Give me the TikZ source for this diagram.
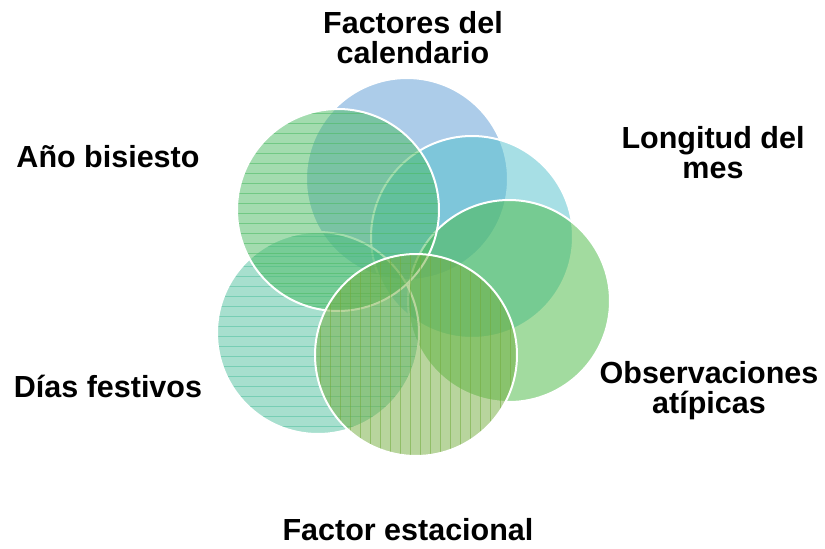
\documentclass[tikz,border=0pt]{standalone}
\usepackage{fontspec}
\setmainfont{Liberation Sans}
\definecolor{cBlue}{HTML}{5B9BD5}
\definecolor{cLong}{HTML}{51C1CD}
\definecolor{cObs}{HTML}{47B941}
\definecolor{cDias}{HTML}{51C19F}
\definecolor{cAno}{HTML}{49BB61}
\definecolor{cFac}{HTML}{72AC3C}
\begin{document}
\begin{tikzpicture}[x=1pt,y=-1pt,
  ring/.style={draw=white,line width=2pt},
  disc/.style={fill opacity=0.5},
  stripe/.style={line width=0.9pt,opacity=0.55},
  lbl/.style={font=\bfseries\fontsize{30.5}{30}\selectfont,align=center,anchor=base,inner sep=0pt}]
\useasboundingbox[fill=white] (0,0) rectangle (825,549);
\coordinate (cB) at (407,179);
\coordinate (cL) at (472,237);
\coordinate (cO) at (509,301);
\coordinate (cD) at (318,333);
\coordinate (cA) at (338,210);
\coordinate (cF) at (416,355);
% blue
\fill[cBlue,disc] (cB) circle (101pt);
\draw[ring] (cB) circle (101pt);
% longitud
\fill[cLong,disc] (cL) circle (101pt);
\draw[ring] (cL) circle (101pt);
% observaciones
\fill[cObs,disc] (cO) circle (101pt);
\draw[ring] (cO) circle (101pt);
% dias festivos
\fill[cDias,disc] (cD) circle (101pt);
\begin{scope}
  \clip (cD) circle (101pt);
  \foreach \y in {236,246,...,436} \draw[stripe,cDias] (215,\y) -- (421,\y);
\end{scope}
\draw[ring] (cD) circle (101pt);
% ano bisiesto
\fill[cAno,disc] (cA) circle (101pt);
\begin{scope}
  \clip (cA) circle (101pt);
  \foreach \y in {113,123,...,313} \draw[stripe,cAno] (235,\y) -- (441,\y);
\end{scope}
\draw[ring] (cA) circle (101pt);
% factor estacional
\fill[cFac,disc] (cF) circle (101pt);
\begin{scope}
  \clip (cF) circle (101pt);
  \foreach \x in {320,330,...,520} \draw[stripe,cFac] (\x,252) -- (\x,458);
\end{scope}
\draw[ring] (cF) circle (101pt);
% labels
\node[lbl] (fc) at (413,63) {Factores del\\calendario};
\node[lbl] (lm) at (713,178) {Longitud del\\mes};
\node[lbl] (oa) at (709,413) {Observaciones\\atípicas};
\node[lbl] (ab) at (108,167) {Año bisiesto};
\node[lbl] (df) at (108,397) {Días festivos};
\node[lbl] (fe) at (408,540) {Factor estacional};
\end{tikzpicture}
\end{document}
